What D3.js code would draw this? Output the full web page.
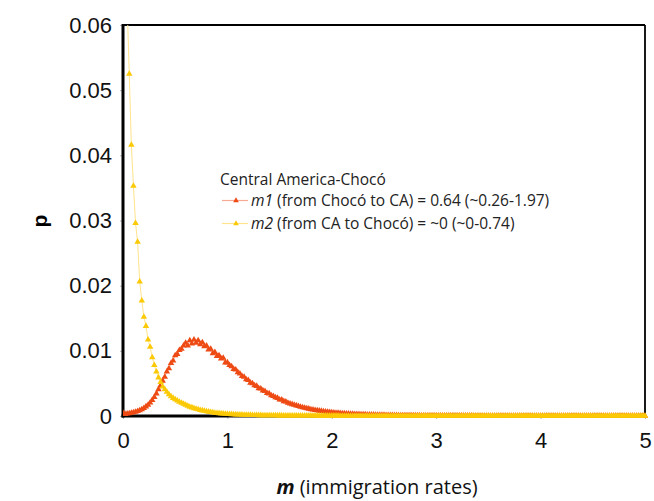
<!DOCTYPE html>
<html>
<head>
<meta charset="utf-8">
<script src="https://cdn.jsdelivr.net/npm/d3@7"></script>
<style>
  html, body { margin: 0; padding: 0; background: #fff; }
  svg { display: block; }
</style>
</head>
<body>
<svg id="chart" width="654" height="501"></svg>
<script>
// Posterior densities of immigration rate m, sampled on a regular grid (step mStep, m = 0 … 5).
// Values are p × 10^5.
const mStep = 0.02;

// m1: from Chocó to CA
const m1Density = [
  45, 30, 35, 40, 48, 55, 62, 75, 85, 100,            // 0.00–0.18
  120, 145, 170, 205, 245, 290, 345, 410, 470, 540,   // 0.20–0.38
  600, 680, 730, 810, 850, 930, 950, 1010, 1030, 1080,// 0.40–0.58
  1120, 1080, 1160, 1110, 1170, 1120, 1160, 1100, 1130, 1070, // 0.60–0.78
  1080, 1020, 1030, 960, 980, 920, 930, 880, 890, 820, // 0.80–0.98
  820, 780, 760, 720, 710, 670, 650, 610, 600, 560,   // 1.00–1.18
  550, 510, 500, 470, 460, 425, 420, 390, 380, 350,   // 1.20–1.38
  345, 315, 305, 285, 275, 250, 250, 225, 220, 200,   // 1.40–1.58
  190, 180, 170, 160, 150, 140, 132, 125, 115, 110,   // 1.60–1.78
  102, 96, 90, 85, 80, 76, 70, 66, 62, 58,            // 1.80–1.98
  55, 52, 48, 46, 43, 40, 38, 36, 34, 32,             // 2.00–2.18
  30, 29, 27, 26, 24, 23, 22, 21, 20, 19,             // 2.20–2.38
  18, 17, 16, 15, 15, 14, 13, 13, 12, 12,             // 2.40–2.58
  11, 11, 10, 10, 9, 9, 9, 8, 8, 8,                   // 2.60–2.78
  7, 7, 7, 6, 6, 6, 6, 5, 5, 5,                       // 2.80–2.98
  5, 5, 5, 4, 4, 4, 4, 4, 4, 3,                       // 3.00–3.18
  3, 3, 3, 3, 3, 3, 3, 3, 2, 2,                       // 3.20–3.38
  2, 2, 2, 2, 2, 2, 2, 2, 2, 2,                       // 3.40–3.58
  2, 2, 2, 1, 1, 1, 1, 1, 1, 1,                       // 3.60–3.78
  1, 1, 1, 1, 1, 1, 1, 1, 1, 1,                       // 3.80–3.98
  1, 1, 1, 1, 1, 1, 1, 1, 1, 1,                       // 4.00–4.18
  1, 1, 1, 1, 1, 0, 0, 0, 0, 0,                       // 4.20–4.38
  0, 0, 0, 0, 0, 0, 0, 0, 0, 0,                       // 4.40–4.58
  0, 0, 0, 0, 0, 0, 0, 0, 0, 0,                       // 4.60–4.78
  0, 0, 0, 0, 0, 0, 0, 0, 0, 0,                       // 4.80–4.98
  0                                                   // 5.00
];

// m2: from CA to Chocó
const m2Density = [
  9500, 7600, 6300, 5250, 4160, 3530, 2960, 2670, 2060, 1770, // 0.00–0.18
  1520, 1380, 1170, 1060, 900, 780, 680, 590, 520, 450,       // 0.20–0.38
  410, 370, 330, 300, 275, 255, 235, 215, 200, 185,           // 0.40–0.58
  170, 155, 140, 130, 118, 108, 100, 90, 84, 77,              // 0.60–0.78
  70, 64, 58, 53, 48, 44, 41, 38, 35, 32,                     // 0.80–0.98
  30, 28, 26, 24, 22, 21, 20, 18, 17, 16,                     // 1.00–1.18
  15, 14, 13, 13, 12, 11, 11, 10, 10, 9,                      // 1.20–1.38
  9, 8, 8, 8, 7, 7, 7, 6, 6, 6,                               // 1.40–1.58
  6, 5, 5, 5, 5, 5, 4, 4, 4, 4,                               // 1.60–1.78
  4, 4, 4, 3, 3, 3, 3, 3, 3, 3,                               // 1.80–1.98
  3, 3, 3, 3, 2, 2, 2, 2, 2, 2,                               // 2.00–2.18
  2, 2, 2, 2, 2, 2, 2, 2, 2, 2,                               // 2.20–2.38
  2, 2, 1, 1, 1, 1, 1, 1, 1, 1,                               // 2.40–2.58
  1, 1, 1, 1, 1, 1, 1, 1, 1, 1,                               // 2.60–2.78
  1, 1, 1, 1, 1, 1, 1, 1, 1, 1,                               // 2.80–2.98
  1, 1, 1, 1, 1, 1, 1, 1, 1, 1,                               // 3.00–3.18
  1, 1, 1, 1, 1, 1, 1, 1, 1, 1,                               // 3.20–3.38
  1, 1, 1, 1, 1, 1, 1, 1, 1, 1,                               // 3.40–3.58
  1, 1, 1, 1, 1, 1, 1, 1, 1, 1,                               // 3.60–3.78
  1, 1, 1, 1, 1, 1, 1, 1, 1, 1,                               // 3.80–3.98
  1, 1, 1, 1, 1, 1, 1, 1, 1, 1,                               // 4.00–4.18
  1, 1, 1, 1, 1, 1, 1, 1, 1, 1,                               // 4.20–4.38
  1, 1, 1, 1, 1, 1, 1, 1, 1, 1,                               // 4.40–4.58
  1, 1, 1, 1, 1, 1, 1, 1, 1, 1,                               // 4.60–4.78
  1, 1, 1, 1, 1, 1, 1, 1, 1, 1,                               // 4.80–4.98
  1                                                           // 5.00
];

const densityUnit = 1e-5;

const xTicks = [0, 1, 2, 3, 4, 5];
const xTickLabels = ["0", "1", "2", "3", "4", "5"];
const yTicks = [0, 0.01, 0.02, 0.03, 0.04, 0.05, 0.06];
const yTickLabels = ["0", "0.01", "0.02", "0.03", "0.04", "0.05", "0.06"];

const legendTitle = "Central America-Chocó";
const seriesKeys = ["m1", "m2"];
const seriesLabels = [
  " (from Chocó to CA) = 0.64 (~0.26-1.97)",
  " (from CA to Chocó) = ~0 (~0-0.74)"
];

// ---- layout ----
const svg = d3.select("#chart");
const plot = { left: 123, right: 645, top: 25, bottom: 416 };

const x = d3.scaleLinear().domain([0, 5]).range([plot.left, plot.right]);
const y = d3.scaleLinear().domain([0, 0.06]).range([plot.bottom, plot.top]);

const styles = {
  m1: { marker: "#ee4a14", line: "#f7a994" },
  m2: { marker: "#fbc905", line: "#ffe38c" }
};

const series = [
  { key: "m1", values: m1Density },
  { key: "m2", values: m2Density }
].map(s => ({
  key: s.key,
  points: s.values.map((v, i) => ({ m: i * mStep, p: v * densityUnit }))
}));

// ---- axes ----
const yAxis = d3.axisLeft(y)
  .tickValues(yTicks)
  .tickFormat((d, i) => yTickLabels[i])
  .tickSize(3)
  .tickPadding(8);

const xAxis = d3.axisBottom(x)
  .tickValues(xTicks)
  .tickFormat((d, i) => xTickLabels[i])
  .tickSize(3)
  .tickPadding(13);

const gy = svg.append("g").attr("transform", `translate(${plot.left},0)`).call(yAxis);
const gx = svg.append("g").attr("transform", `translate(0,${plot.bottom})`).call(xAxis);

[gx, gy].forEach(g => {
  g.select(".domain").remove();
  g.selectAll(".tick line").attr("stroke", "#b8b8b8").attr("stroke-width", 1);
  g.selectAll(".tick text")
    .attr("fill", "#111")
    .style("font-family", "'Liberation Sans', Arial, sans-serif")
    .style("font-size", "22px");
});

// ---- frame ----
svg.append("line")
  .attr("x1", plot.left).attr("x2", plot.right)
  .attr("y1", plot.top).attr("y2", plot.top)
  .attr("stroke", "#000").attr("stroke-width", 2.2);
svg.append("line")
  .attr("x1", plot.right).attr("x2", plot.right)
  .attr("y1", plot.top).attr("y2", plot.bottom)
  .attr("stroke", "#000").attr("stroke-width", 1.8);
svg.append("line")
  .attr("x1", plot.left).attr("x2", plot.left)
  .attr("y1", plot.top - 1).attr("y2", plot.bottom + 1.5)
  .attr("stroke", "#000").attr("stroke-width", 3);
svg.append("line")
  .attr("x1", plot.left - 1.5).attr("x2", plot.right)
  .attr("y1", plot.bottom).attr("y2", plot.bottom)
  .attr("stroke", "#000").attr("stroke-width", 3);

// ---- series ----
svg.append("clipPath").attr("id", "plot-clip")
  .append("rect")
  .attr("x", plot.left).attr("y", plot.top)
  .attr("width", plot.right - plot.left + 4)
  .attr("height", plot.bottom - plot.top + 4);

const plotArea = svg.append("g").attr("clip-path", "url(#plot-clip)");

const line = d3.line().x(d => x(d.m)).y(d => y(d.p));
const triangle = d3.symbol().type(d3.symbolTriangle).size(18);
const legendTriangle = d3.symbol().type(d3.symbolTriangle).size(14);

series.forEach(s => {
  const g = plotArea.append("g").attr("class", "series-" + s.key);
  g.append("path")
    .datum(s.points)
    .attr("fill", "none")
    .attr("stroke", styles[s.key].line)
    .attr("stroke-width", 1)
    .attr("d", line);
  g.selectAll("path.mark")
    .data(s.points)
    .join("path")
    .attr("class", "mark")
    .attr("d", triangle)
    .attr("transform", d => `translate(${x(d.m)},${y(d.p)})`)
    .attr("fill", styles[s.key].marker);
});

// ---- axis titles ----
svg.append("text")
  .attr("transform", "translate(47,221) rotate(-90)")
  .attr("text-anchor", "middle")
  .style("font-family", "'Liberation Sans', Arial, sans-serif")
  .style("font-weight", "bold")
  .style("font-size", "21px")
  .text("p");

const xt = svg.append("text")
  .attr("x", 377).attr("y", 494)
  .attr("text-anchor", "middle")
  .style("font-family", "'Open Sans', sans-serif")
  .style("font-size", "20px")
  .attr("fill", "#111");
xt.append("tspan").style("font-weight", "bold").style("font-style", "italic").text("m");
xt.append("tspan").text(" (immigration rates)");

// ---- legend ----
const legend = svg.append("g")
  .style("font-family", "'Open Sans', sans-serif")
  .style("font-size", "15.5px")
  .attr("fill", "#222");

legend.append("text").attr("x", 220).attr("y", 185).text(legendTitle);

seriesKeys.forEach((k, i) => {
  const cy = 200.5 + i * 23;
  legend.append("line")
    .attr("x1", 222).attr("x2", 248)
    .attr("y1", cy).attr("y2", cy)
    .attr("stroke", styles[k].line).attr("stroke-width", 1.2);
  legend.append("path")
    .attr("d", legendTriangle)
    .attr("transform", `translate(236,${cy})`)
    .attr("fill", styles[k].marker);
  const t = legend.append("text").attr("x", 251).attr("y", cy + 5);
  t.append("tspan").style("font-style", "italic").text(k);
  t.append("tspan").text(seriesLabels[i]);
});
</script>
</body>
</html>
